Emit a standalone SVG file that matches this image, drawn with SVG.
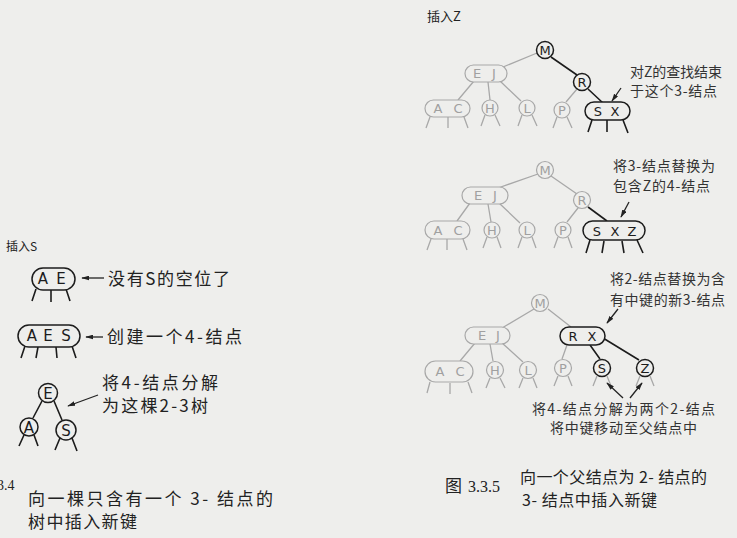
<svg xmlns="http://www.w3.org/2000/svg" width="737" height="538" viewBox="0 0 737 538">
<defs>
<style>
.bg{fill:#eeeeec}
.b{fill:none;stroke:#1c1c1c;stroke-width:1.6}
.bn{fill:#eeeeec;stroke:#1c1c1c;stroke-width:1.5}
.g{fill:none;stroke:#a8a8a8;stroke-width:1.3}
.gn{fill:#eeeeec;stroke:#a8a8a8;stroke-width:1.2}
.lb{font-family:"DejaVu Sans","Liberation Sans",sans-serif;font-size:13px;fill:#1c1c1c;text-anchor:middle}
.lg{font-family:"DejaVu Sans","Liberation Sans",sans-serif;font-size:13px;fill:#a0a0a0;text-anchor:middle}
.ll{font-family:"DejaVu Sans","Liberation Sans",sans-serif;font-size:15px;fill:#1c1c1c;text-anchor:middle}
.cn{font-family:"Noto Sans CJK SC","Noto Sans",sans-serif;fill:#222}
.an{font-family:"Noto Sans CJK SC","Noto Sans",sans-serif;font-size:14px;fill:#333}
.ar{fill:none;stroke:#222;stroke-width:1.3}
.sf{font-family:"Liberation Serif",serif;fill:#222}
</style>
<marker id="ah" viewBox="0 0 10 6" refX="9" refY="3" markerWidth="8" markerHeight="5" markerUnits="userSpaceOnUse" orient="auto">
<path d="M0,0 L10,3 L0,6 z" fill="#222"/>
</marker>
</defs>
<rect class="bg" x="0" y="0" width="737" height="538"/>

<!-- Left figure -->
<text class="cn" x="6" y="251" font-size="12">插入S</text>
<g id="connectors-left">
<path class="b" d="M36,289 L32,301 M51,290 L51,302 M66,289 L70,301"/>
<path class="b" d="M25,346 L21,358 M38,347 L36,358 M56,347 L57,358 M72,346 L76,358"/>
<path class="b" d="M42,401 L33,418 M54,401 L62,420"/>
<path class="b" d="M24,435 L19,446 M34,435 L38,446 M60,438 L55,450 M72,438 L77,451"/>
<line class="ar" x1="104" y1="278" x2="82" y2="278" marker-end="url(#ah)"/>
<line class="ar" x1="103" y1="337" x2="86" y2="337" marker-end="url(#ah)"/>
<line class="ar" x1="98" y1="395" x2="68" y2="406" marker-end="url(#ah)"/>
</g>
<g id="node-AE"><rect class="bn" x="32" y="268" width="43" height="22" rx="11"/><text class="ll" x="43" y="284">A</text><text class="ll" x="61" y="284">E</text></g>
<g id="node-AES"><rect class="bn" x="18" y="325" width="62" height="22" rx="11"/><text class="ll" x="32" y="341">A</text><text class="ll" x="48" y="341">E</text><text class="ll" x="66" y="341">S</text></g>
<g id="node-E-left"><circle class="bn" cx="48" cy="393" r="9.5"/><text class="ll" x="48" y="398.5">E</text></g>
<g id="node-A-left"><circle class="bn" cx="29" cy="427" r="9"/><text class="ll" x="29" y="432.5">A</text></g>
<g id="node-S-left"><circle class="bn" cx="66" cy="430" r="10"/><text class="ll" x="66" y="435.5">S</text></g>
<text class="cn" x="108" y="285" font-size="17" textLength="122" lengthAdjust="spacing">没有S的空位了</text>
<text class="cn" x="107" y="343" font-size="17" textLength="135" lengthAdjust="spacing">创建一个4-结点</text>
<text class="cn" x="102" y="389" font-size="17" textLength="116" lengthAdjust="spacing">将4-结点分解</text>
<text class="cn" x="102" y="412" font-size="17" textLength="106" lengthAdjust="spacing">为这棵2-3树</text>
<text class="sf" x="-3" y="490" font-size="14">3.4</text>
<text class="cn" x="28" y="505" font-size="17" textLength="245" lengthAdjust="spacing">向一棵只含有一个 3- 结点的</text>
<text class="cn" x="28" y="528" font-size="17" textLength="109" lengthAdjust="spacing">树中插入新键</text>

<!-- Right figure -->
<text class="cn" x="427" y="21" font-size="13">插入Z</text>
<g id="connectors-right">
<path class="g" d="M537,53 L503,67 M577,89 L566,102 M474,81 L458,100 M488,82 L490,100 M500,81 L521,101"/>
<path class="b" d="M551,57 L577,75 M588,89 L603,103"/>
<path class="g" d="M430,117 L426,128 M448,117 L448,128 M464,117 L468,128 M485,115 L481,126 M495,115 L500,126 M522,115 L518,126 M532,115 L537,126 M557,117 L553,128 M567,117 L572,128"/>
<path class="b" d="M592,120 L588,132 M607,120 L607,132 M623,120 L628,133"/>
<line class="ar" x1="621" y1="88" x2="612" y2="101" marker-end="url(#ah)"/>
<path class="g" d="M538,174 L498,188 M551,176 L577,194 M578,208 L567,222 M470,203 L457,221 M488,204 L491,222 M499,203 L520,223"/>
<path class="b" d="M588,207 L607,221"/>
<path class="g" d="M431,239 L427,250 M447,239 L447,250 M463,239 L467,250 M487,237 L483,248 M497,237 L501,248 M522,237 L518,248 M532,237 L536,248 M558,237 L554,248 M568,237 L572,248"/>
<path class="b" d="M590,240 L586,253 M604,241 L602,253 M622,241 L624,253 M637,240 L643,253"/>
<line class="ar" x1="629" y1="202" x2="621" y2="217" marker-end="url(#ah)"/>
<path class="g" d="M534,309 L502,328 M548,309 L571,327 M475,343 L460,361 M490,344 L493,361 M502,343 L523,362 M567,345 L562,359"/>
<path class="b" d="M590,345 L600,359 M603,338 L639,360"/>
<path class="g" d="M430,382 L427,393 M450,383 L450,394 M468,382 L472,393 M490,378 L486,388 M500,378 L505,388 M523,378 L519,388 M533,378 L537,388 M558,376 L554,386 M568,376 L572,386 M597,376 L593,386 M607,376 L611,386 M640,376 L636,386 M650,376 L654,386"/>
<line class="ar" x1="618" y1="309" x2="607" y2="323" marker-end="url(#ah)"/>
<line class="ar" x1="623" y1="398" x2="607" y2="383" marker-end="url(#ah)"/>
<line class="ar" x1="630" y1="398" x2="642" y2="383" marker-end="url(#ah)"/>
</g>

<g id="t1-M"><circle class="bn" cx="545" cy="50" r="8.5"/><text class="lb" x="545" y="54.5">M</text></g>
<g id="t1-EJ"><rect class="gn" x="465" y="65" width="42" height="17" rx="8.5"/><text class="lg" x="477" y="78">E</text><text class="lg" x="494" y="78">J</text></g>
<g id="t1-R"><circle class="bn" cx="582" cy="82" r="8.5"/><text class="lb" x="582" y="86.5">R</text></g>
<g id="t1-AC"><rect class="gn" x="425" y="100" width="45" height="17" rx="8.5"/><text class="lg" x="438" y="113">A</text><text class="lg" x="458" y="113">C</text></g>
<g id="t1-H"><circle class="gn" cx="490" cy="108" r="8"/><text class="lg" x="490" y="112.5">H</text></g>
<g id="t1-L"><circle class="gn" cx="527" cy="108" r="8"/><text class="lg" x="527" y="112.5">L</text></g>
<g id="t1-P"><circle class="gn" cx="562" cy="110" r="8"/><text class="lg" x="562" y="114.5">P</text></g>
<g id="t1-SX"><rect class="bn" x="585" y="102" width="45" height="18" rx="9"/><text class="lb" x="598" y="116">S</text><text class="lb" x="615" y="116">X</text></g>
<text class="an" x="630" y="77" font-size="13.5" fill="#444" textLength="92" lengthAdjust="spacing">对Z的查找结束</text>
<text class="an" x="630" y="96" font-size="13.5" fill="#444" textLength="87" lengthAdjust="spacing">于这个3-结点</text>

<g id="t2-M"><circle class="gn" cx="545" cy="170" r="8.5"/><text class="lg" x="545" y="174.5">M</text></g>
<g id="t2-EJ"><rect class="gn" x="462" y="187" width="46" height="17" rx="8.5"/><text class="lg" x="478" y="200">E</text><text class="lg" x="495" y="200">J</text></g>
<g id="t2-R"><circle class="gn" cx="582" cy="200" r="8.5"/><text class="lg" x="582" y="204.5">R</text></g>
<g id="t2-AC"><rect class="gn" x="425" y="221" width="45" height="18" rx="9"/><text class="lg" x="438" y="235">A</text><text class="lg" x="458" y="235">C</text></g>
<g id="t2-H"><circle class="gn" cx="492" cy="230" r="8"/><text class="lg" x="492" y="234.5">H</text></g>
<g id="t2-L"><circle class="gn" cx="527" cy="230" r="8"/><text class="lg" x="527" y="234.5">L</text></g>
<g id="t2-P"><circle class="gn" cx="563" cy="230" r="8"/><text class="lg" x="563" y="234.5">P</text></g>
<g id="t2-SXZ"><rect class="bn" x="583" y="221" width="62" height="19" rx="9.5"/><text class="lb" x="597" y="236">S</text><text class="lb" x="615" y="236">X</text><text class="lb" x="632" y="236">Z</text></g>
<text class="an" x="613" y="171" textLength="102" lengthAdjust="spacing">将3-结点替换为</text>
<text class="an" x="613" y="191" textLength="97" lengthAdjust="spacing">包含Z的4-结点</text>

<text class="an" x="610" y="284" textLength="115" lengthAdjust="spacing">将2-结点替换为含</text>
<text class="an" x="610" y="305" textLength="115" lengthAdjust="spacing">有中键的新3-结点</text>
<g id="t3-M"><circle class="gn" cx="540" cy="303" r="8.5"/><text class="lg" x="540" y="307.5">M</text></g>
<g id="t3-EJ"><rect class="gn" x="465" y="327" width="45" height="17" rx="8.5"/><text class="lg" x="482" y="340">E</text><text class="lg" x="498" y="340">J</text></g>
<g id="t3-RX"><rect class="bn" x="560" y="327" width="45" height="18" rx="9"/><text class="lb" x="573" y="341">R</text><text class="lb" x="592" y="341">X</text></g>
<g id="t3-AC"><rect class="gn" x="425" y="361" width="48" height="21" rx="10.5"/><text class="lg" x="440" y="376">A</text><text class="lg" x="460" y="376">C</text></g>
<g id="t3-H"><circle class="gn" cx="495" cy="370" r="8.5"/><text class="lg" x="495" y="374.5">H</text></g>
<g id="t3-L"><circle class="gn" cx="528" cy="370" r="8.5"/><text class="lg" x="528" y="374.5">L</text></g>
<g id="t3-P"><circle class="gn" cx="563" cy="368" r="8.5"/><text class="lg" x="563" y="372.5">P</text></g>
<g id="t3-S"><circle class="bn" cx="602" cy="368" r="8.5"/><text class="lb" x="602" y="372.5">S</text></g>
<g id="t3-Z"><circle class="bn" cx="645" cy="368" r="8.5"/><text class="lb" x="645" y="372.5">Z</text></g>
<text class="an" x="532" y="414" textLength="183" lengthAdjust="spacing">将4-结点分解为两个2-结点</text>
<text class="an" x="550" y="433" textLength="147" lengthAdjust="spacing">将中键移动至父结点中</text>

<text class="cn" x="445" y="492" font-size="17">图</text>
<text class="sf" x="468" y="492" font-size="16">3.3.5</text>
<text class="cn" x="520" y="483" font-size="16" textLength="187" lengthAdjust="spacing">向一个父结点为 2- 结点的</text>
<text class="cn" x="522" y="506" font-size="16" textLength="135" lengthAdjust="spacing">3- 结点中插入新键</text>
</svg>
